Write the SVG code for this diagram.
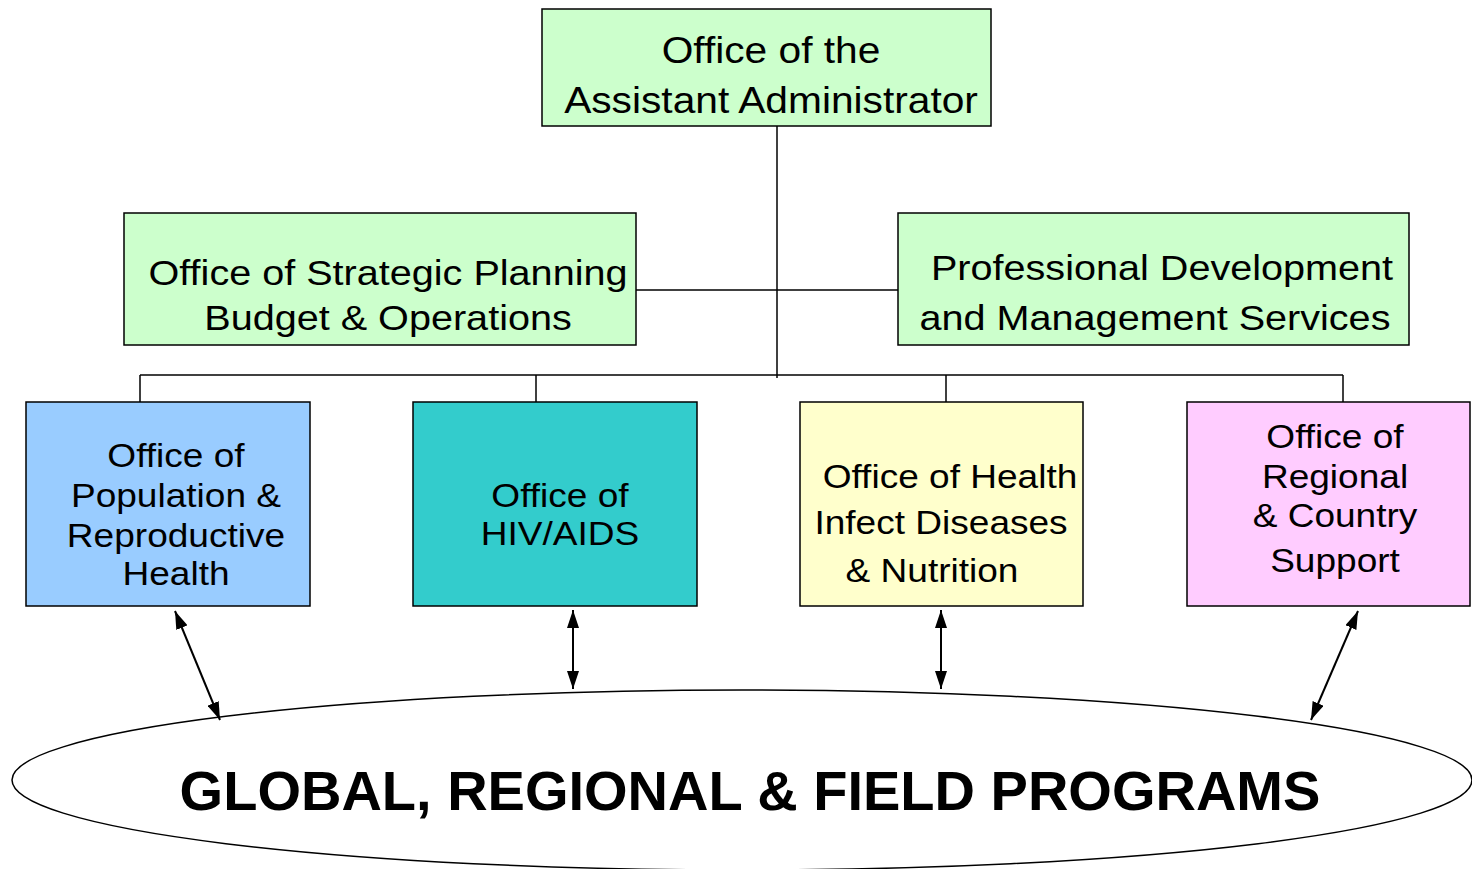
<svg xmlns="http://www.w3.org/2000/svg" width="1472" height="869" viewBox="0 0 1472 869">
<style>
  .box { stroke: #000; stroke-width: 1.5; }
  .t { font-family: "Liberation Sans", Arial, sans-serif; fill: #000; text-anchor: middle; }
  .big { font-size: 37px; }
  .mid { font-size: 36px; }
  .sm { font-size: 34px; }
  .title { font-family: "Liberation Sans", Arial, sans-serif; font-weight: bold; font-size: 56px; text-anchor: middle; fill: #000; }
  .conn { stroke: #000; stroke-width: 1.5; fill: none; }
  .arr { stroke: #000; stroke-width: 2; fill: none; marker-start: url(#ah); marker-end: url(#ah); }
</style>
<defs>
  <marker id="ah" viewBox="0 0 18 12" refX="18" refY="6" markerWidth="18" markerHeight="12" orient="auto-start-reverse" markerUnits="userSpaceOnUse">
    <path d="M0,0 L18,6 L0,12 z" fill="#000"/>
  </marker>
</defs>
<rect width="1472" height="869" fill="#fff"/>

<g id="connectors">
  <line class="conn" x1="777" y1="126" x2="777" y2="378"/>
  <line class="conn" x1="636" y1="290" x2="899" y2="290"/>
  <line class="conn" x1="140" y1="375" x2="1343" y2="375"/>
  <line class="conn" x1="140" y1="375" x2="140" y2="402"/>
  <line class="conn" x1="536" y1="375" x2="536" y2="402"/>
  <line class="conn" x1="946" y1="375" x2="946" y2="402"/>
  <line class="conn" x1="1343" y1="375" x2="1343" y2="402"/>
  <line class="arr" x1="175" y1="611" x2="220" y2="720"/>
  <line class="arr" x1="573" y1="610" x2="573" y2="689"/>
  <line class="arr" x1="941" y1="610" x2="941" y2="689"/>
  <line class="arr" x1="1358" y1="611" x2="1311" y2="720"/>
</g>

<g id="assistant-administrator">
  <rect class="box" x="542" y="9" width="449" height="117" fill="#CCFFCC"/>
  <g transform="translate(771 0) scale(1.1 1)">
    <text class="t big" x="0" y="63">Office of the</text>
    <text class="t big" x="0" y="113">Assistant Administrator</text>
  </g>
</g>

<g id="strategic-planning">
  <rect class="box" x="124" y="213" width="512" height="132" fill="#CCFFCC"/>
  <g transform="translate(388 0) scale(1.1 1)">
    <text class="t mid" x="0" y="285">Office of Strategic Planning</text>
    <text class="t mid" x="0" y="330">Budget &amp; Operations</text>
  </g>
</g>

<g id="professional-development">
  <rect class="box" x="898" y="213" width="511" height="132" fill="#CCFFCC"/>
  <text class="t mid" x="0" y="280" transform="translate(1162 0) scale(1.1 1)">Professional Development</text>
  <text class="t mid" x="0" y="330" transform="translate(1155 0) scale(1.1 1)">and Management Services</text>
</g>

<g id="population">
  <rect class="box" x="26" y="402" width="284" height="204" fill="#99CCFF"/>
  <g transform="translate(176 0) scale(1.09 1)">
    <text class="t sm" x="0" y="467">Office of</text>
    <text class="t sm" x="0" y="507">Population &amp;</text>
    <text class="t sm" x="0" y="547">Reproductive</text>
    <text class="t sm" x="0" y="585">Health</text>
  </g>
</g>

<g id="hiv-aids">
  <rect class="box" x="413" y="402" width="284" height="204" fill="#33CCCC"/>
  <g transform="translate(560 0) scale(1.09 1)">
    <text class="t sm" x="0" y="507">Office of</text>
    <text class="t sm" x="0" y="545">HIV/AIDS</text>
  </g>
</g>

<g id="health-nutrition">
  <rect class="box" x="800" y="402" width="283" height="204" fill="#FFFFCC"/>
  <text class="t sm" x="0" y="488" transform="translate(950 0) scale(1.09 1)">Office of Health</text>
  <text class="t sm" x="0" y="534" transform="translate(941 0) scale(1.09 1)">Infect Diseases</text>
  <text class="t sm" x="0" y="582" transform="translate(932 0) scale(1.09 1)">&amp; Nutrition</text>
</g>

<g id="regional-country">
  <rect class="box" x="1187" y="402" width="283" height="204" fill="#FFCCFF"/>
  <g transform="translate(1335 0) scale(1.09 1)">
    <text class="t sm" x="0" y="448">Office of</text>
    <text class="t sm" x="0" y="488">Regional</text>
    <text class="t sm" x="0" y="527">&amp; Country</text>
    <text class="t sm" x="0" y="572">Support</text>
  </g>
</g>

<g id="global-programs">
  <ellipse cx="742" cy="780" rx="730" ry="90" fill="none" stroke="#000" stroke-width="1.5"/>
  <text class="title" x="750" y="810">GLOBAL, REGIONAL &amp; FIELD PROGRAMS</text>
</g>
</svg>
